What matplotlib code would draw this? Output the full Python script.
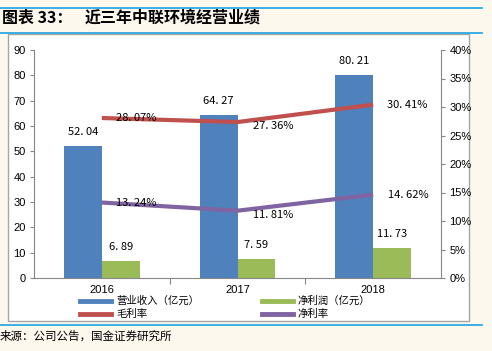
import matplotlib
matplotlib.use("Agg")
import matplotlib.pyplot as plt
from matplotlib.lines import Line2D
from matplotlib.patches import Rectangle
import numpy as np

plt.rcParams['font.family'] = ['Liberation Sans', 'Noto Sans CJK SC', 'DejaVu Sans']

years = ["2016", "2017", "2018"]
revenue = [52.04, 64.27, 80.21]
net_profit = [6.89, 7.59, 11.73]
gross_margin = [28.07, 27.36, 30.41]
net_margin = [13.24, 11.81, 14.62]
left_ticks = [0, 10, 20, 30, 40, 50, 60, 70, 80, 90]
right_ticks = [0, 5, 10, 15, 20, 25, 30, 35, 40]

W, H = 492, 351
fig = plt.figure(figsize=(W / 100, H / 100), dpi=100)
bg = '#FDF8EE'
fig.patch.set_facecolor(bg)

def fx(x): return x / W
def fy(y): return 1 - y / H

# white box
fig.add_artist(Rectangle((fx(8), fy(321)), fx(469) - fx(8), fy(34) - fy(321),
                         facecolor='white', edgecolor='#A6A6A6', lw=1.0, zorder=-5))
# blue rules
for y in (8, 33, 325):
    fig.add_artist(Line2D([fx(0), fx(482)], [fy(y), fy(y)], color='#1AA1E1', lw=1.2))

fig.text(fx(2), fy(18), "图表 33：", fontsize=11.5, fontweight='bold',
         family=['Noto Sans CJK SC'], va='center', ha='left')
fig.text(fx(85), fy(18), "近三年中联环境经营业绩", fontsize=11.5, fontweight='bold',
         family=['Noto Sans CJK SC'], va='center', ha='left')
fig.text(fx(0), fy(336), "来源：公司公告，国金证券研究所", fontsize=8.3,
         family=['Noto Sans CJK SC'], va='center', ha='left')

ax = fig.add_axes([fx(34), fy(278), fx(441) - fx(34), fy(50) - fy(278)])
ax.set_facecolor('none')
x = np.arange(len(years))
bw = 0.28
blue, green, red, purple = '#4F81BD', '#9BBB59', '#C0504D', '#8064A2'
b1 = ax.bar(x - bw / 2, revenue, bw, color=blue, zorder=2)
b2 = ax.bar(x + bw / 2, net_profit, bw, color=green, zorder=2)
ax.set_xlim(-0.5, 2.5)
ax.set_ylim(0, 90)
ax.set_yticks(left_ticks)
ax.set_xticks([0.5, 1.5], minor=False)
ax.set_xticklabels([])
ax.set_xticks(x, minor=True)
ax.set_xticklabels(years, minor=True)
ax.tick_params(axis='x', which='minor', length=0, pad=5, labelsize=8)
ax.tick_params(axis='x', which='major', length=4, color='#868686', direction='out')
ax.tick_params(axis='y', length=3, color='#868686', labelsize=8, pad=3)
for s in ('top', 'right'):
    ax.spines[s].set_visible(False)
for s in ('left', 'bottom'):
    ax.spines[s].set_color('#868686')

lab_font = ['Noto Sans CJK SC']
def fmt(v):
    return f"{v:.2f}".replace('.', '. ')
for i in range(3):
    ax.annotate(fmt(revenue[i]), (x[i] - bw / 2, revenue[i]), xytext=(0, 14),
                textcoords='offset pixels', ha='center', va='center', fontsize=8, family=lab_font)
    ax.annotate(fmt(net_profit[i]), (x[i] + bw / 2, net_profit[i]), xytext=(0, 14),
                textcoords='offset pixels', ha='center', va='center', fontsize=8, family=lab_font)

ax2 = ax.twinx()
ax2.set_ylim(0, 40)
ax2.set_yticks(right_ticks)
ax2.set_yticklabels([f"{t}%" for t in right_ticks])
ax2.tick_params(axis='y', length=3, color='#868686', labelsize=8, pad=3)
for s in ('top', 'left', 'bottom'):
    ax2.spines[s].set_visible(False)
ax2.spines['right'].set_color('#868686')
ax2.plot(x, gross_margin, color=red, lw=3, solid_capstyle='butt', zorder=3)
ax2.plot(x, net_margin, color=purple, lw=3, solid_capstyle='butt', zorder=3)

gm_off = [(14, 0), (15, -4), (14, 0)]
nm_off = [(14, 0), (15, -4), (15, 0)]
for i in range(3):
    ax2.annotate(fmt(gross_margin[i]) + "%", (x[i], gross_margin[i]), xytext=gm_off[i],
                 textcoords='offset pixels', ha='left', va='center', fontsize=8, family=lab_font)
    ax2.annotate(fmt(net_margin[i]) + "%", (x[i], net_margin[i]), xytext=nm_off[i],
                 textcoords='offset pixels', ha='left', va='center', fontsize=8, family=lab_font)

# legend
legend_items = [
    (80, 301, blue, "营业收入（亿元）"),
    (262, 301, green, "净利润（亿元）"),
    (80, 314, red, "毛利率"),
    (262, 314, purple, "净利率"),
]
for lx, ly, c, t in legend_items:
    fig.add_artist(Line2D([fx(lx), fx(lx + 31)], [fy(ly), fy(ly)], color=c, lw=3.5))
    fig.text(fx(lx + 36), fy(ly), t, fontsize=7.5, family=['Noto Sans CJK SC'],
             va='center', ha='left')

fig.savefig("out.png", dpi=100, facecolor=bg)
